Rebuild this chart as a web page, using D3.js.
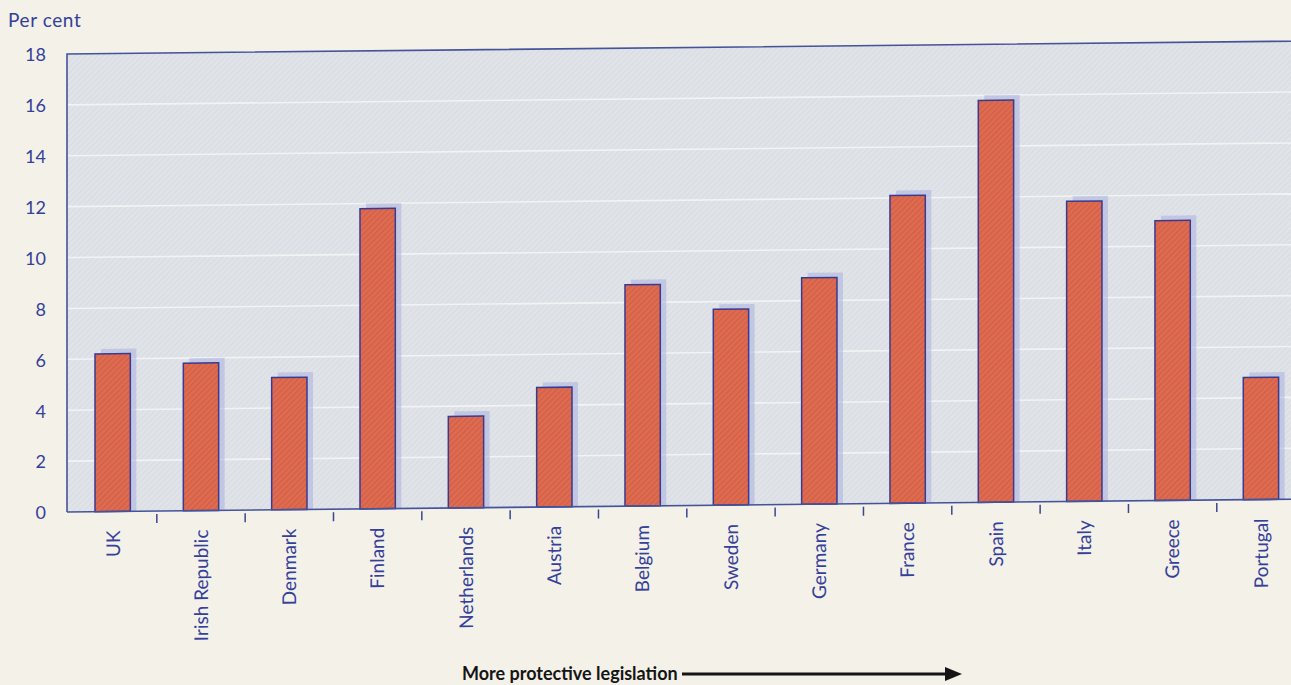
<!DOCTYPE html>
<html>
<head>
<meta charset="utf-8">
<script src="https://cdn.jsdelivr.net/npm/d3@7"></script>
<style>
  html, body { margin: 0; padding: 0; background: #f3f1e8; }
  svg { display: block; }
  text { font-family: Lato, "Open Sans", sans-serif; }
</style>
</head>
<body>
<svg id="chart" width="1291" height="685"></svg>
<script>
// Unemployment rate by country, ordered by strictness of employment protection
const countries = ["UK", "Irish Republic", "Denmark", "Finland", "Netherlands", "Austria",
  "Belgium", "Sweden", "Germany", "France", "Spain", "Italy", "Greece", "Portugal"];
const rates = [6.2, 5.8, 5.2, 11.8, 3.6, 4.7, 8.7, 7.7, 8.9, 12.1, 15.8, 11.8, 11.0, 4.8];
const yTicks = [0, 2, 4, 6, 8, 10, 12, 14, 16, 18];
const yTitle = "Per cent";
const footLabel = "More protective legislation";

const plotLeft = 67, plotTop = 54, plotBottom = 512, plotRight = 1306;
const navy = "#34409a";

const svg = d3.select("#chart");
const defs = svg.append("defs");

// printed textures
const barPat = defs.append("pattern").attr("id", "barHatch")
  .attr("patternUnits", "userSpaceOnUse").attr("width", 4).attr("height", 4)
  .attr("patternTransform", "rotate(45)");
barPat.append("rect").attr("width", 4).attr("height", 4).attr("fill", "#df6b50");
barPat.append("rect").attr("width", 1.3).attr("height", 4).attr("fill", "#cc5c45").attr("opacity", 0.8);

const bgPat = defs.append("pattern").attr("id", "bgHatch")
  .attr("patternUnits", "userSpaceOnUse").attr("width", 4).attr("height", 4)
  .attr("patternTransform", "rotate(45)");
bgPat.append("rect").attr("width", 4).attr("height", 4).attr("fill", "#e0e3e8");
bgPat.append("rect").attr("width", 1.2).attr("height", 4).attr("fill", "#d6dae0").attr("opacity", 0.8);

const x = d3.scaleBand().domain(countries)
  .range([68.5, 68.5 + 14 * 88.33]).paddingInner(0.6).paddingOuter(0.3);
const y = d3.scaleLinear().domain([0, 18]).range([plotBottom, plotTop]);

// the figure is printed with a slight upward slant to the right
const g = svg.append("g")
  .attr("transform", `translate(${plotLeft},${plotBottom}) skewY(-0.6) translate(${-plotLeft},${-plotBottom})`);

// plot background
g.append("rect").attr("x", plotLeft).attr("y", plotTop)
  .attr("width", plotRight - plotLeft + 20).attr("height", plotBottom - plotTop)
  .attr("fill", "url(#bgHatch)");

// gridlines
g.append("g").selectAll("line").data(yTicks.filter(d => d > 0 && d < 18)).join("line")
  .attr("x1", plotLeft + 1).attr("x2", plotRight + 20)
  .attr("y1", d => y(d)).attr("y2", d => y(d))
  .attr("stroke", "#f6f7f8").attr("stroke-width", 1.6).attr("opacity", 0.85);

// plot frame (left and top edges)
g.append("path")
  .attr("d", `M${plotLeft},${plotBottom} L${plotLeft},${plotTop} L${plotRight + 20},${plotTop}`)
  .attr("fill", "none").attr("stroke", "#44539a").attr("stroke-width", 1.6);

// y-axis labels
const yAxis = d3.axisLeft(y).tickValues(yTicks).tickSize(0).tickPadding(0);
const ya = svg.append("g").attr("transform", `translate(46,0)`).call(yAxis);
ya.select(".domain").remove();
ya.selectAll("text").attr("font-size", 18).attr("fill", navy)
  .attr("font-family", "Lato, sans-serif").attr("dy", "0.38em");

// bar shadows
g.append("g").selectAll("rect").data(rates).join("rect")
  .attr("x", (d, i) => x(countries[i]) + 6)
  .attr("y", d => y(d) - 5)
  .attr("width", x.bandwidth())
  .attr("height", d => plotBottom - y(d) + 5)
  .attr("fill", "#aab3e0").attr("opacity", 0.55);

// bars
g.append("g").selectAll("rect").data(rates).join("rect")
  .attr("x", (d, i) => x(countries[i]))
  .attr("y", d => y(d))
  .attr("width", x.bandwidth())
  .attr("height", d => plotBottom - y(d))
  .attr("fill", "url(#barHatch)")
  .attr("stroke", "#3a3a8e").attr("stroke-width", 1.5);

// x axis line
g.append("line").attr("x1", plotLeft).attr("x2", plotRight + 20)
  .attr("y1", plotBottom).attr("y2", plotBottom)
  .attr("stroke", "#44539a").attr("stroke-width", 1.6);

// separator ticks between countries
const step = x.step();
g.append("g").selectAll("line").data(countries.slice(1)).join("line")
  .attr("x1", d => x(d) - step * 0.3).attr("x2", d => x(d) - step * 0.3)
  .attr("y1", plotBottom + 3).attr("y2", plotBottom + 12)
  .attr("stroke", "#3b4690").attr("stroke-width", 1.5);

// category labels
const xAxis = d3.axisBottom(x).tickSize(0).tickPadding(0);
const xa = g.append("g").attr("transform", `translate(0,${plotBottom + 19})`).call(xAxis);
xa.select(".domain").remove();
xa.selectAll("text")
  .attr("transform", "rotate(-90)")
  .attr("text-anchor", "end")
  .attr("x", 0).attr("y", 0).attr("dy", "0.36em")
  .attr("font-size", 19).attr("fill", navy)
  .attr("font-family", "Lato, sans-serif");

// axis title
svg.append("text").attr("x", 8).attr("y", 27)
  .attr("font-size", 19).attr("letter-spacing", 0.6).attr("fill", navy).text(yTitle);

// footnote with arrow
svg.append("text").attr("x", 462).attr("y", 680)
  .attr("font-size", 18).attr("font-weight", 700).attr("fill", "#151515")
  .text(footLabel);
svg.append("line").attr("x1", 682).attr("x2", 948).attr("y1", 674).attr("y2", 674)
  .attr("stroke", "#151515").attr("stroke-width", 3);
svg.append("path").attr("d", "M945,667 L962,674 L945,681 Z").attr("fill", "#151515");
</script>
</body>
</html>
